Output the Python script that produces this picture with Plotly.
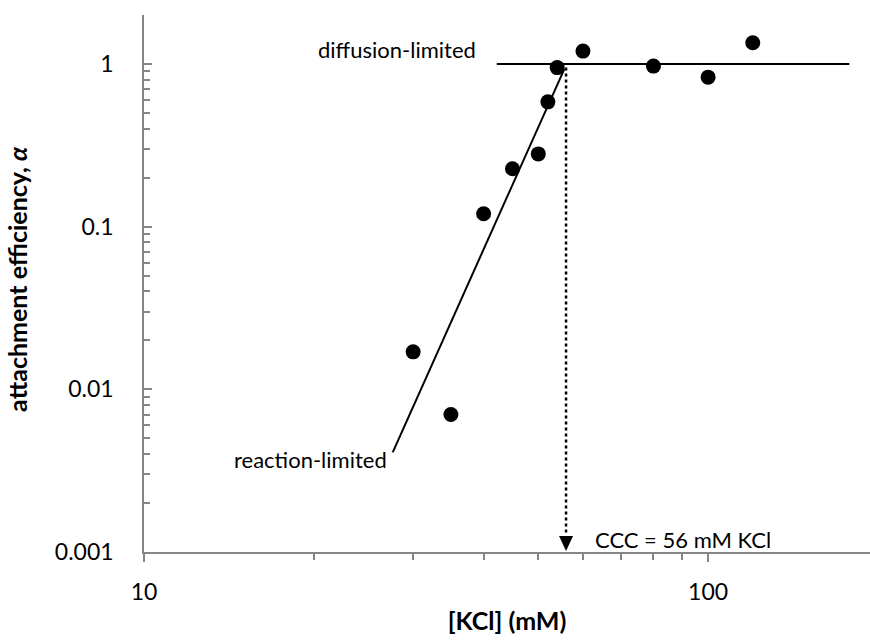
import math
import plotly.graph_objects as go

# Measured attachment efficiencies vs KCl concentration
kcl_mM = [30, 35, 40, 45, 50, 52, 54, 60, 80, 100, 120]
alpha = [0.017, 0.007, 0.12, 0.227, 0.28, 0.585, 0.95, 1.2, 0.97, 0.83, 1.35]

# Reaction-limited regime fit line and diffusion-limited plateau
fit_x = [27.6, 55.6]
fit_y = [0.0041, 0.93]
plateau_x = [42.2, 178]
plateau_y = [1, 1]

# Critical coagulation concentration
ccc_mM = 56
ccc_top = 0.95

x_tickvals = [10, 100]
x_ticktext = ["10", "100"]
x_minor = [20, 30, 40, 50, 60, 70, 80, 90]
y_tickvals = [0.001, 0.01, 0.1, 1]
y_ticktext = ["0.001", "0.01", "0.1", "1"]
y_minor = [m * 10 ** e for e in (-3, -2, -1) for m in range(2, 10)] + [2]

X_RANGE = [1, 2.287]
Y_RANGE = [-3, math.log10(2)]
FONT = "Lato"
AXIS_GREY = "#868686"

fig = go.Figure()

fig.add_trace(go.Scatter(x=plateau_x, y=plateau_y, mode="lines",
                         line=dict(color="black", width=2), hoverinfo="skip"))
fig.add_trace(go.Scatter(x=fit_x, y=fit_y, mode="lines",
                         line=dict(color="black", width=2), hoverinfo="skip"))
fig.add_trace(go.Scatter(x=[ccc_mM, ccc_mM], y=[ccc_top, 0.00128], mode="lines",
                         line=dict(color="black", width=2.5, dash="dot"),
                         hoverinfo="skip"))
fig.add_trace(go.Scatter(x=kcl_mM, y=alpha, mode="markers",
                         marker=dict(color="black", size=15), hoverinfo="skip"))

# Arrowhead at the CCC, tip resting on the x axis
fig.add_shape(type="path", xref="x", yref="y",
              xsizemode="pixel", ysizemode="pixel",
              xanchor=ccc_mM, yanchor=0.001,
              path="M-7,16 L7,16 L0,1 Z",
              fillcolor="black", line=dict(color="black", width=0))

label_font = dict(family=FONT, size=22, color="black")
fig.add_annotation(x=1.592, y=0.089, xref="x", yref="y", text="diffusion-limited",
                   showarrow=False, xanchor="right", yanchor="middle", font=label_font)
fig.add_annotation(x=1.434, y=-2.434, xref="x", yref="y", text="reaction-limited",
                   showarrow=False, xanchor="right", yanchor="middle", font=label_font)
fig.add_annotation(x=1.796, y=-2.926, xref="x", yref="y", text="CCC = 56 mM KCl",
                   showarrow=False, xanchor="left", yanchor="middle", font=label_font)

title_font = dict(family=FONT, size=25, color="black")

# Vertical axis title, set slightly above the plot's mid-height
fig.add_annotation(x=-0.174, y=0.508, xref="paper", yref="paper",
                   text="<b>attachment efficiency, <i>α</i></b>", textangle=-90,
                   showarrow=False, xanchor="center", yanchor="middle",
                   font=title_font)

fig.update_layout(
    width=870, height=643,
    margin=dict(l=144, r=0, t=15, b=91),
    paper_bgcolor="white", plot_bgcolor="white",
    showlegend=False,
    font=dict(family=FONT, size=23, color="black"),
    xaxis=dict(
        type="log", range=X_RANGE, showgrid=False, zeroline=False,
        showline=True, linecolor=AXIS_GREY, linewidth=1.5,
        ticks="outside", ticklen=8, tickwidth=1.5, tickcolor=AXIS_GREY,
        tickvals=x_tickvals, ticktext=x_ticktext, ticklabelstandoff=11,
        minor=dict(tickvals=x_minor, ticks="outside", ticklen=6,
                   tickwidth=1.5, tickcolor=AXIS_GREY, showgrid=False),
        title=dict(text="<b>[KCl] (mM)</b>", standoff=8, font=title_font),
    ),
    yaxis=dict(
        type="log", range=Y_RANGE, showgrid=False, zeroline=False,
        showline=True, linecolor=AXIS_GREY, linewidth=1.5,
        ticks="inside", ticklen=8, tickwidth=1.5, tickcolor=AXIS_GREY,
        tickvals=y_tickvals, ticktext=y_ticktext, ticklabelstandoff=24,
        minor=dict(tickvals=y_minor, ticks="inside", ticklen=6,
                   tickwidth=1.5, tickcolor=AXIS_GREY, showgrid=False),
    ),
)

fig.write_html("out.html")
